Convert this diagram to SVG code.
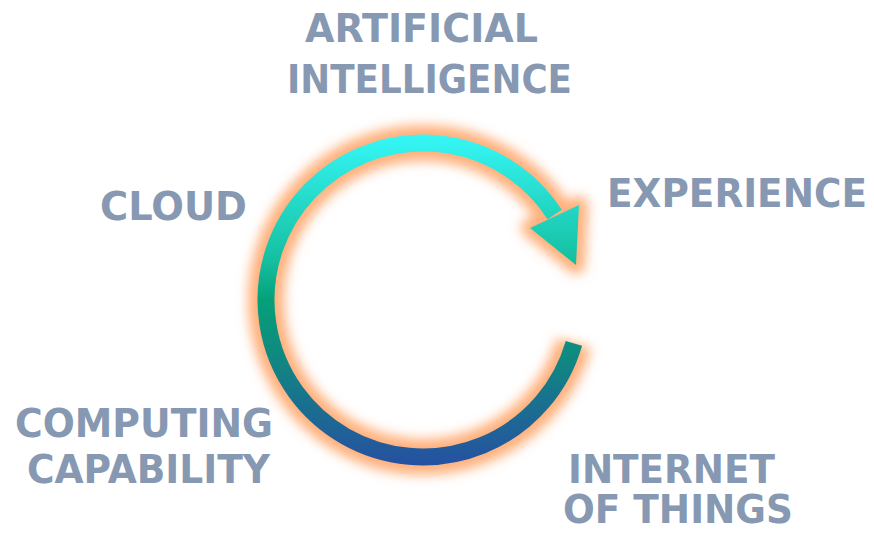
<svg xmlns="http://www.w3.org/2000/svg" width="874" height="535" viewBox="0 0 874 535">
  <style>
    .lbl { font-family: "DejaVu Sans", "Noto Sans", sans-serif; font-weight: 700; font-size: 39px; fill: #8698b2; }
  </style>
  <defs>
    <linearGradient id="grad" gradientUnits="userSpaceOnUse" x1="0" y1="135" x2="0" y2="466">
      <stop offset="0" stop-color="#36f7f7"/>
      <stop offset="0.38" stop-color="#15bfa0"/>
      <stop offset="0.5" stop-color="#05a07a"/>
      <stop offset="0.66" stop-color="#0f8a80"/>
      <stop offset="1" stop-color="#2650a2"/>
    </linearGradient>
    <filter id="glow" x="-20%" y="-20%" width="140%" height="140%">
      <feGaussianBlur stdDeviation="6"/>
    </filter>
  </defs>
  <rect width="874" height="535" fill="#ffffff"/>
  <g id="connectors">
    <g filter="url(#glow)">
      <path d="M 573.9 343.3 A 157 157 0 1 1 554.7 214.5" fill="none" stroke="#ffb07c" stroke-width="36"/>
      <polygon points="530,228 579,205 576,265" fill="#ffb07c" stroke="#ffb07c" stroke-width="18" stroke-linejoin="round"/>
    </g>
    <path d="M 573.9 343.3 A 157 157 0 1 1 554.7 214.5" fill="none" stroke="url(#grad)" stroke-width="17"/>
    <polygon points="530,228 579,205 576,265" fill="url(#grad)"/>
  </g>
  <g id="ai">
    <text class="lbl" x="305" y="42" textLength="233" lengthAdjust="spacingAndGlyphs">ARTIFICIAL</text>
    <text class="lbl" x="287" y="93" textLength="285" lengthAdjust="spacingAndGlyphs">INTELLIGENCE</text>
  </g>
  <g id="experience">
    <text class="lbl" x="607" y="207" textLength="260" lengthAdjust="spacingAndGlyphs">EXPERIENCE</text>
  </g>
  <g id="cloud">
    <text class="lbl" x="100" y="220" textLength="147" lengthAdjust="spacingAndGlyphs">CLOUD</text>
  </g>
  <g id="computing">
    <text class="lbl" x="15" y="437" textLength="258" lengthAdjust="spacingAndGlyphs">COMPUTING</text>
    <text class="lbl" x="27" y="483" textLength="243" lengthAdjust="spacingAndGlyphs">CAPABILITY</text>
  </g>
  <g id="iot">
    <text class="lbl" x="568" y="483" textLength="207" lengthAdjust="spacingAndGlyphs">INTERNET</text>
    <text class="lbl" x="563" y="523" textLength="230" lengthAdjust="spacingAndGlyphs">OF THINGS</text>
  </g>
</svg>
